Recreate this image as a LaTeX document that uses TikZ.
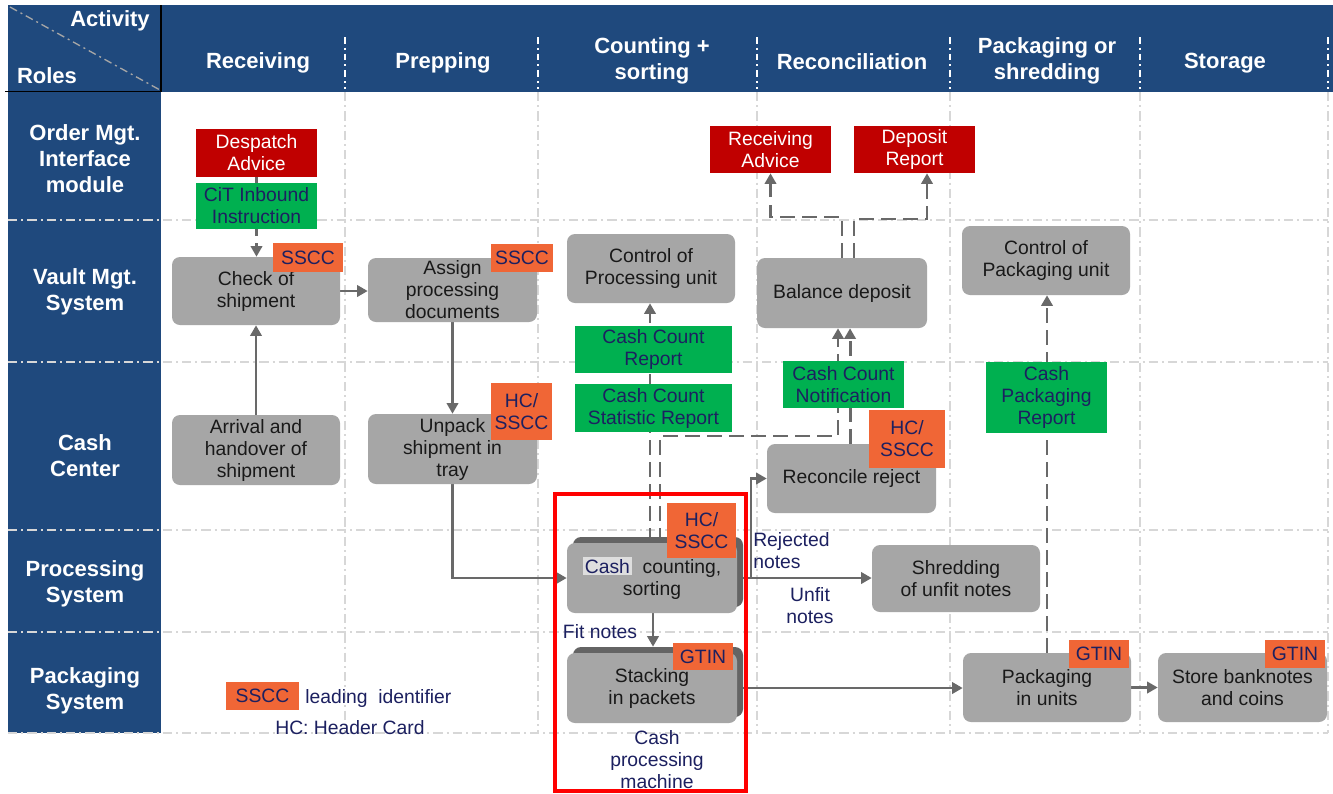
\documentclass[tikz,border=0pt]{standalone}
\usepackage{fontspec}
\setmainfont{Liberation Sans}
\usetikzlibrary{arrows.meta,shadows,calc}
\pgfdeclarelayer{gridlayer}
\pgfdeclarelayer{connlayer}
\pgfsetlayers{gridlayer,connlayer,main}
\definecolor{hdrblue}{RGB}{31,73,125}
\definecolor{boxgray}{RGB}{166,166,166}
\definecolor{shadowgray}{RGB}{100,100,100}
\definecolor{linegray}{RGB}{105,105,105}
\definecolor{advred}{RGB}{192,0,0}
\definecolor{msggreen}{RGB}{0,176,80}
\definecolor{tagorange}{RGB}{240,102,54}
\definecolor{navy}{RGB}{28,32,96}
\definecolor{gridgray}{RGB}{215,215,215}
\definecolor{hlgray}{RGB}{222,222,222}
\newcommand{\bodyfnt}{\fontsize{14.5}{16.5}\selectfont}
\newcommand{\hdrfnt}{\fontsize{16.5}{19.5}\selectfont\bfseries}
\setlength{\fboxsep}{1.5pt}
\begin{document}
\begin{tikzpicture}[x=0.75pt,y=-0.75pt,
  proc/.style={fill=boxgray, rounded corners=6pt, align=center, inner sep=0pt, font=\bodyfnt, text=black!90},
  stackbox/.style={general shadow={fill=shadowgray, shadow xshift=4.5pt, shadow yshift=4.5pt}},
  redmsg/.style={fill=advred, text=white, align=center, inner sep=0pt, font=\bodyfnt},
  greenmsg/.style={fill=msggreen, text=navy, align=center, inner sep=0pt, font=\bodyfnt},
  tag/.style={fill=tagorange, text=navy, align=center, inner sep=0pt, font=\bodyfnt},
  lbl/.style={text=navy, align=center, inner sep=0pt, font=\bodyfnt},
  hdr/.style={text=white, font=\hdrfnt, align=center, inner sep=0pt},
  gridln/.style={draw=gridgray, line width=1.1pt, dash pattern=on 7pt off 3pt on 1.5pt off 3pt},
  hdrsep/.style={draw=white, line width=1pt, dash pattern=on 5pt off 3pt on 1.5pt off 3pt},
  flow/.style={draw=linegray, line width=2.2pt, -{Triangle[length=8pt,width=8.5pt]}},
  dflow/.style={flow, dash pattern=on 11pt off 5.5pt}
]
\useasboundingbox (0,0) rectangle (1333,793);

\begin{pgfonlayer}{gridlayer}
  \fill[white] (0,0) rectangle (1333,793);
  \fill[hdrblue] (8,5) rectangle (1333,92);
  \fill[hdrblue] (8,92) rectangle (161,733);
  \foreach \gx in {345,538,757,950,1140,1328} {
    \draw[gridln] (\gx,92) -- (\gx,733);
    \draw[hdrsep] (\gx,37) -- (\gx,89);
  }
  \foreach \gy in {220,362,530,632,733} {
    \draw[gridln] (8,\gy) -- (1328,\gy);
  }
  \draw[gray!70, line width=1pt, dash pattern=on 6pt off 3pt on 1.5pt off 3pt] (10,7) -- (160,90);
  \draw[black, line width=1.3pt] (5,91.5) -- (161,91.5) (161,5) -- (161,91.5);
\end{pgfonlayer}

% header texts
\node[hdr] (hact) at (110,21) {Activity};
\node[hdr] (hrol) at (47,76) {Roles};
\node[hdr] (hrec) at (258,63) {Receiving};
\node[hdr] (hprep) at (443,63) {Prepping};
\node[hdr] (hcount) at (652,60.5) {Counting +\\sorting};
\node[hdr] (hreco) at (852,62) {Reconciliation};
\node[hdr] (hpack) at (1047,60.5) {Packaging or\\shredding};
\node[hdr] (hstor) at (1225,63) {Storage};
\node[hdr] (rorder) at (85,159) {Order Mgt.\\Interface\\module};
\node[hdr] (rvault) at (85,292) {Vault Mgt.\\System};
\node[hdr] (rcash) at (85,455.5) {Cash\\Center};
\node[hdr] (rproc) at (85,583.5) {Processing\\System};
\node[hdr] (rpack) at (85,690.5) {Packaging\\System};

% process boxes
\node[proc, minimum width=126pt, minimum height=51pt] (check) at (256,291) {Check of\\shipment};
\node[proc, minimum width=126.75pt, minimum height=48pt] (assign) at (452.5,290) {Assign\\processing\\documents};
\node[proc, minimum width=126pt, minimum height=52.5pt] (arrival) at (256,450) {Arrival and\\handover of\\shipment};
\node[proc, minimum width=126.75pt, minimum height=52.5pt] (unpack) at (452.5,449) {Unpack\\shipment in\\tray};
\node[proc, minimum width=126pt, minimum height=51.75pt] (ctrlproc) at (651,268.5) {Control of\\Processing unit};
\node[proc, minimum width=127.5pt, minimum height=52.5pt] (balance) at (842,293) {Balance deposit};
\node[proc, minimum width=126.75pt, minimum height=51.75pt] (reconcile) at (851.5,478.5) {Reconcile reject};
\node[proc, stackbox, minimum width=127.5pt, minimum height=52.5pt] (counting) at (652,578) {\colorbox{hlgray}{\textcolor{navy}{Cash}}\ \ counting,\\sorting};
\node[proc, stackbox, minimum width=127.5pt, minimum height=52.5pt] (stacking) at (652,688) {Stacking\\in packets};
\node[proc, minimum width=126pt, minimum height=50.25pt] (shredding) at (956,578.5) {Shredding\\of unfit notes};
\node[proc, minimum width=126pt, minimum height=51.75pt] (ctrlpack) at (1046,260.5) {Control of\\Packaging unit};
\node[proc, minimum width=126pt, minimum height=51.75pt] (packaging) at (1047,687.5) {Packaging\\in units};
\node[proc, minimum width=126.75pt, minimum height=51.75pt] (store) at (1242.5,687.5) {Store banknotes\\and coins};

% messages
\node[redmsg, minimum width=90.75pt, minimum height=36pt] (despatch) at (256.5,153) {Despatch\\Advice};
\node[redmsg, minimum width=90.75pt, minimum height=35.25pt] (recadv) at (770.5,149.5) {Receiving\\Advice};
\node[redmsg, minimum width=90.75pt, minimum height=35.25pt] (deprep) at (914.5,149.5) {Deposit\\Report};
\node[greenmsg, minimum width=90.75pt, minimum height=34.5pt] (cit) at (256.5,206) {CiT Inbound\\Instruction};
\node[greenmsg, minimum width=117.75pt, minimum height=35.25pt] (ccr) at (653.5,349.5) {Cash Count\\Report};
\node[greenmsg, minimum width=117.75pt, minimum height=36pt] (ccsr) at (653.5,408) {Cash Count\\Statistic Report};
\node[greenmsg, minimum width=90.75pt, minimum height=35.25pt] (ccn) at (843.5,384.5) {Cash Count\\Notification};
\node[greenmsg, minimum width=90.75pt, minimum height=53.25pt] (cpr) at (1046.5,397.5) {Cash\\Packaging\\Report};

% identifier tags
\node[tag, minimum width=52.5pt, minimum height=21.75pt] (t1) at (308,257.5) {SSCC};
\node[tag, minimum width=46.5pt, minimum height=21pt] (t2) at (522,258) {SSCC};
\node[tag, minimum width=45.75pt, minimum height=42.75pt] (t3) at (521.5,411.5) {HC/\\SSCC};
\node[tag, minimum width=57pt, minimum height=43.5pt] (t4) at (907,439) {HC/\\SSCC};
\node[tag, minimum width=51.75pt, minimum height=41.25pt] (t5) at (701.5,530.5) {HC/\\SSCC};
\node[tag, minimum width=45pt, minimum height=20.25pt] (t6) at (703,656.5) {GTIN};
\node[tag, minimum width=45pt, minimum height=21pt] (t7) at (1099,654) {GTIN};
\node[tag, minimum width=45pt, minimum height=21pt] (t8) at (1295,654) {GTIN};

% labels
\node[lbl] (fit) at (600,632) {Fit notes};
\node[lbl, anchor=west, align=left] (rej) at (753,551) {Rejected\\notes};
\node[lbl] (unfit) at (810,606) {Unfit\\notes};
\node[lbl] (machine) at (657,760) {Cash\\processing\\machine};
\node[tag, minimum width=54.75pt, minimum height=21pt] (legtag) at (262.5,696) {SSCC};
\node[lbl, anchor=west] (legtxt) at (305,698) {leading\ \ identifier};
\node[lbl] (hcnote) at (350,728) {HC: Header Card};

% helper coordinates
\coordinate (j1) at (838,436);
\coordinate (j2) at (770.5,217);
\coordinate (j3) at (927,219);
\coordinate (j4) at (751,578);

\begin{pgfonlayer}{connlayer}
  \draw[dflow] (despatch.south) -- (despatch.south |- check.north);
  \draw[flow] (arrival.north) -- (check.south);
  \draw[flow] (check.east) -- (check.east -| assign.west);
  \draw[flow] (assign.south) -- (assign.south |- unpack.north);
  \draw[flow] (unpack.south) |- (counting.west);
  \draw[dflow] ([xshift=-1.5pt]counting.north) -- ([xshift=-1.5pt]counting.north |- ctrlproc.south);
  \draw[dflow] ([xshift=6pt]counting.north) |- (j1) -- (j1 |- balance.south);
  \draw[dflow] ([xshift=-1.1pt]reconcile.north) -- ([xshift=-1.1pt]reconcile.north |- balance.south);
  \draw[dflow] (balance.north) |- (j2) -- (recadv.south);
  \draw[dflow] ([xshift=9pt]balance.north) |- (j3) -- (j3 |- deprep.south);
  \draw[flow] (counting.east) -- (counting.east -| shredding.west);
  \draw[flow] (counting.east) -- (j4) |- (reconcile.west);
  \draw[flow] ([xshift=0.75pt]counting.south) -- ([xshift=0.75pt,yshift=4.5pt]stacking.north);
  \draw[flow] (stacking.east) -- (stacking.east -| packaging.west);
  \draw[flow] (packaging.east) -- (store.west);
  \draw[dflow] (packaging.north) -- (packaging.north |- ctrlpack.south);
\end{pgfonlayer}

% cash processing machine frame
\draw[red, line width=3pt] (555,494) rectangle (746,791);
\end{tikzpicture}
\end{document}
